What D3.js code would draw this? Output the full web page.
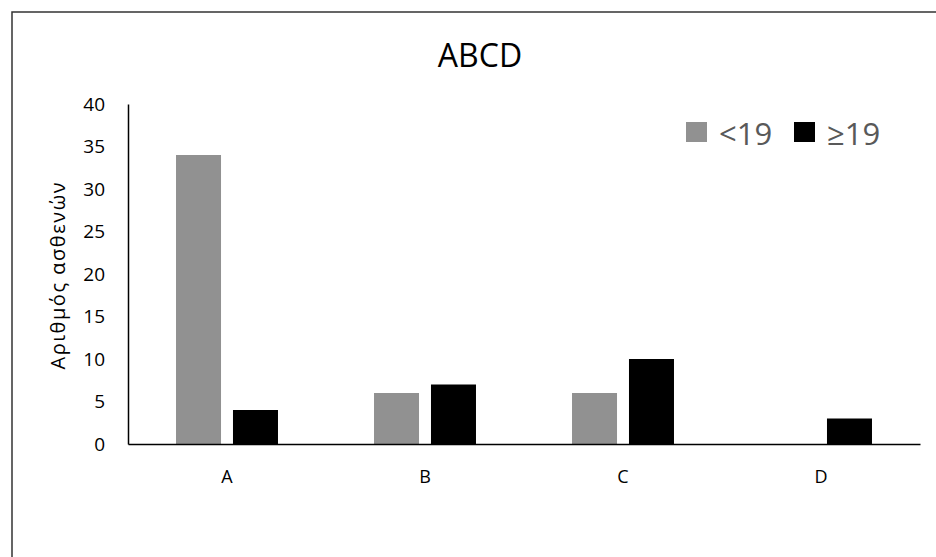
<!DOCTYPE html>
<html><head><meta charset="utf-8">
<script src="https://cdn.jsdelivr.net/npm/d3@7"></script>
<style>body{margin:0;background:#fff}svg{display:block}text{font-family:"Open Sans",sans-serif}</style>
</head><body><svg id="c" width="936" height="557"></svg>
<script>
const categories = ["A","B","C","D"];
const seriesNames = ["<19","≥19"];
const under19 = [34,6,6,0];
const over19 = [4,7,10,3];
const yTicks = [0,5,10,15,20,25,30,35,40];
const colors = ["#919191","#000000"];
const title = "ABCD";
const yTitle = "Αριθμός ασθενών";

(function(){
const svg = d3.select("#c");
svg.append("rect").attr("x",12).attr("y",12).attr("width",940).attr("height",560)
  .attr("fill","#fff").attr("stroke","#333").attr("stroke-width",1.5);

const pL=128, pR=920, pT=104, pB=444;
const x0 = d3.scaleBand().domain(categories).range([pL,pR]).paddingInner(0.485).paddingOuter(0.2425);
const x1 = d3.scaleBand().domain(seriesNames).range([0,x0.bandwidth()]).paddingInner(0.21);
const y = d3.scaleLinear().domain([0,40]).range([pB,pT]);

const data = categories.map((c,i)=>({cat:c, vals:[under19[i], over19[i]]}));
const g = svg.append("g");
g.selectAll("g.grp").data(data).join("g").attr("class","grp")
  .attr("transform",d=>`translate(${x0(d.cat)},0)`)
  .selectAll("rect").data(d=>d.vals.map((v,j)=>({v,j})).filter(o=>o.v>0)).join("rect")
  .attr("x",d=>x1(seriesNames[d.j])).attr("width",x1.bandwidth())
  .attr("y",d=>y(d.v)).attr("height",d=>y(0)-y(d.v))
  .attr("fill",d=>colors[d.j]);

const ya = svg.append("g").attr("transform",`translate(${pL},0)`)
  .call(d3.axisLeft(y).tickValues(yTicks).tickSize(0).tickPadding(23));
ya.select(".domain").attr("stroke","#000").attr("stroke-width",1.5);
ya.selectAll("text").style("font-size","19px").attr("fill","#000").style("font-family","Open Sans");

const xa = svg.append("g").attr("transform",`translate(0,${pB})`)
  .call(d3.axisBottom(x0).tickSize(0).tickPadding(26));
xa.select(".domain").attr("stroke","#000").attr("stroke-width",1.5);
xa.selectAll("text").style("font-size","18px").attr("fill","#000").style("font-family","Open Sans");

svg.append("text").attr("x",480).attr("y",67).attr("text-anchor","middle")
  .attr("font-size",32).attr("fill","#000").text(title);

svg.append("text").attr("transform",`translate(65,276) rotate(-90)`)
  .attr("text-anchor","middle").attr("font-size",20).attr("fill","#000")
  .attr("textLength",187).attr("lengthAdjust","spacing").text(yTitle);

const legX=[686,794];
seriesNames.forEach((n,i)=>{
  svg.append("rect").attr("x",legX[i]).attr("y",122).attr("width",21).attr("height",20).attr("fill",colors[i]);
  svg.append("text").attr("x",legX[i]+33).attr("y",145).attr("font-size",31).attr("fill","#595959").text(n);
});
})();
</script></body></html>
